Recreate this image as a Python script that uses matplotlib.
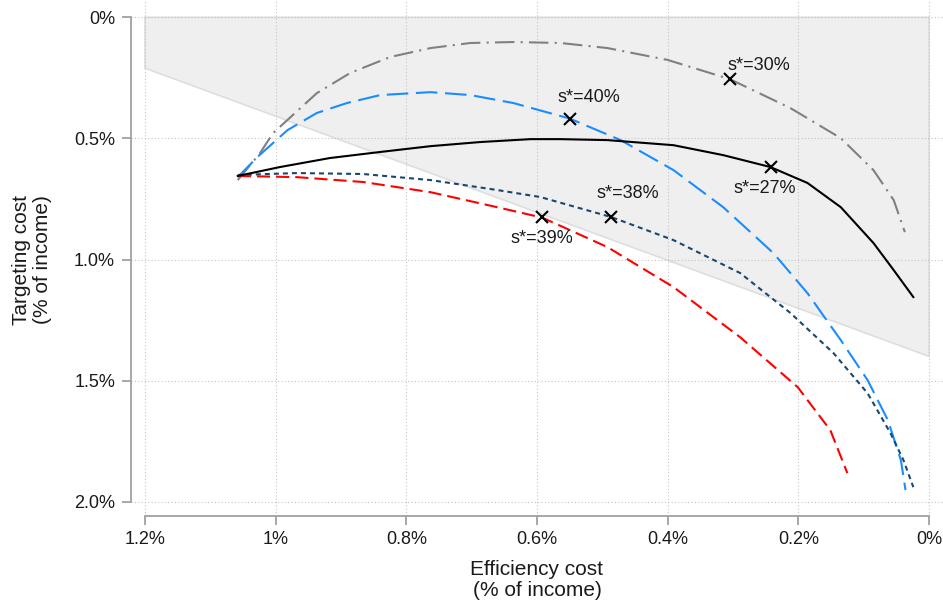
import matplotlib
matplotlib.use("Agg")
import matplotlib.pyplot as plt

plt.rcParams["font.family"] = ["Liberation Sans", "DejaVu Sans"]
plt.rcParams["lines.scale_dashes"] = False

# efficiency cost (x, % of income) / targeting cost (y, % of income)
black_x = [1.058, 0.993, 0.917, 0.840, 0.763, 0.687, 0.610, 0.564, 0.492, 0.391, 0.315, 0.243, 0.186, 0.135, 0.085, 0.054, 0.024]
black_y = [0.655, 0.618, 0.581, 0.556, 0.532, 0.515, 0.503, 0.503, 0.507, 0.528, 0.569, 0.618, 0.684, 0.784, 0.932, 1.044, 1.155]

gray_x = [1.058, 1.024, 1.004, 0.982, 0.937, 0.886, 0.825, 0.763, 0.702, 0.636, 0.564, 0.492, 0.400, 0.305, 0.212, 0.135, 0.085, 0.054, 0.037]
gray_y = [0.672, 0.561, 0.478, 0.424, 0.313, 0.230, 0.164, 0.127, 0.106, 0.102, 0.106, 0.127, 0.176, 0.255, 0.375, 0.499, 0.631, 0.755, 0.887]

blue_x = [1.058, 1.028, 0.982, 0.937, 0.891, 0.840, 0.763, 0.702, 0.636, 0.550, 0.472, 0.391, 0.315, 0.238, 0.186, 0.135, 0.094, 0.063, 0.043, 0.036]
blue_y = [0.660, 0.577, 0.466, 0.395, 0.354, 0.321, 0.309, 0.321, 0.354, 0.418, 0.507, 0.631, 0.784, 0.974, 1.139, 1.333, 1.498, 1.663, 1.829, 1.952]

navy_x = [1.058, 0.967, 0.866, 0.763, 0.661, 0.595, 0.486, 0.391, 0.289, 0.212, 0.146, 0.094, 0.059, 0.039, 0.024]
navy_y = [0.651, 0.643, 0.647, 0.672, 0.713, 0.742, 0.825, 0.920, 1.056, 1.221, 1.387, 1.552, 1.717, 1.829, 1.940]

red_x = [1.058, 0.967, 0.866, 0.763, 0.661, 0.592, 0.492, 0.391, 0.289, 0.201, 0.151, 0.125]
red_y = [0.655, 0.660, 0.680, 0.722, 0.784, 0.827, 0.949, 1.114, 1.321, 1.527, 1.705, 1.882]

# optimal points s*
opt_labels = ["s*=30%", "s*=40%", "s*=27%", "s*=38%", "s*=39%"]
opt_x = [0.305, 0.550, 0.242, 0.486, 0.592]
opt_y = [0.255, 0.418, 0.620, 0.823, 0.823]
lab_x = [0.260, 0.521, 0.251, 0.461, 0.592]
lab_y = [0.218, 0.350, 0.726, 0.746, 0.932]

# shaded region (corners)
shade_x = [1.2, 0.0, 0.0, 1.2]
shade_y = [0.0, 0.0, 1.40, 0.21]

xticks = [1.2, 1.0, 0.8, 0.6, 0.4, 0.2, 0.0]
xticklabels = ["1.2%", "1%", "0.8%", "0.6%", "0.4%", "0.2%", "0%"]
yticks = [0.0, 0.5, 1.0, 1.5, 2.0]
yticklabels = ["0%", "0.5%", "1.0%", "1.5%", "2.0%"]

W, H = 943, 605
fig = plt.figure(figsize=(W / 100, H / 100), dpi=100)
ax = fig.add_axes([131 / W, (H - 516) / H, (W - 131) / W, 516 / H])

ax.fill(shade_x, shade_y, facecolor="#efefef", edgecolor="#dedede", lw=1.2, zorder=1)

lw = 1.5
ax.plot(gray_x, gray_y, color="#808080", lw=lw, dashes=(14, 4.5, 1.5, 4.5), zorder=3)
ax.plot(blue_x, blue_y, color="#1a8cff", lw=lw, dashes=(15.5, 5.5), zorder=3)
ax.plot(navy_x, navy_y, color="#1a476f", lw=lw, dashes=(3.6, 2.9), zorder=3)
ax.plot(red_x, red_y, color="#ff0000", lw=lw, dashes=(9.5, 4.3), zorder=3)
ax.plot(black_x, black_y, color="black", lw=lw, zorder=3)

ax.plot(opt_x, opt_y, "x", color="black", ms=9, mew=1.5, zorder=4)
for t, x, y in zip(opt_labels, lab_x, lab_y):
    ax.text(x, y, t, ha="center", va="baseline", fontsize=13, color="#1a1a1a", zorder=5)

ax.set_xlim(1.2214, -0.0214)
ax.set_ylim(2.059, -0.0715)

ax.set_xticks(xticks)
ax.set_xticklabels(xticklabels)
ax.set_yticks(yticks)
ax.set_yticklabels(yticklabels)

ax.set_axisbelow("line")
ax.grid(True, color="#c4c4c4", linestyle=(0, (0.8, 1.6)), lw=0.8)

for s in ["top", "right"]:
    ax.spines[s].set_visible(False)
for s in ["left", "bottom"]:
    ax.spines[s].set_color("#a0a0a0")
    ax.spines[s].set_linewidth(1.3)
ax.spines["left"].set_bounds(0, 2.0)
ax.spines["bottom"].set_bounds(1.2, 0)
ax.tick_params(axis="both", colors="#a0a0a0", length=6.5, width=1.3,
               labelsize=13, labelcolor="#1a1a1a")
ax.tick_params(axis="y", pad=5)
ax.tick_params(axis="x", pad=4)
ax.patch.set_alpha(0)

fig.text(537 / W, 1 - 580 / H, "Efficiency cost\n(% of income)", ha="center", va="center",
         fontsize=15, color="#1a1a1a", linespacing=1.1)
fig.text(32 / W, 1 - 260 / H, "Targeting cost\n(% of income)", ha="center", va="center",
         rotation=90, fontsize=15, color="#1a1a1a", linespacing=1.1)

fig.savefig("out.png", dpi=100)
